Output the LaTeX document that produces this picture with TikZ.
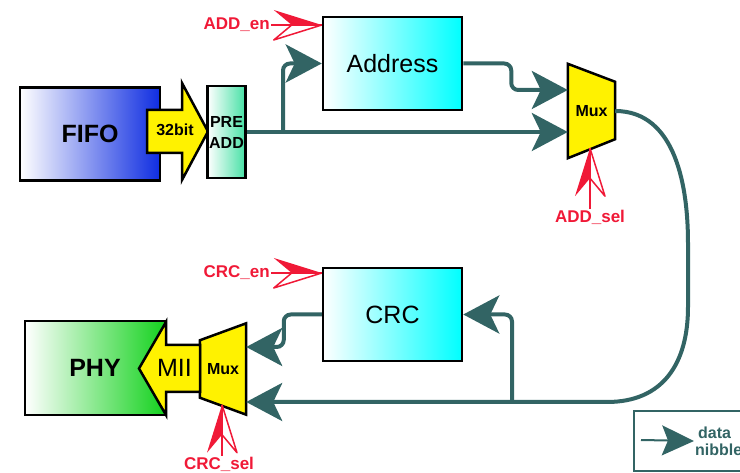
\documentclass[tikz,border=0pt]{standalone}
\usepackage{fontspec}
\setmainfont{Liberation Sans}
\usetikzlibrary{arrows.meta, calc, backgrounds, positioning}

\definecolor{datateal}{RGB}{50,100,100}
\definecolor{ctrlred}{RGB}{240,25,55}
\definecolor{fifoblue}{RGB}{15,45,225}
\definecolor{premint}{RGB}{70,225,165}
\definecolor{phygreen}{RGB}{20,210,30}

\tikzset{
  blockbox/.style={draw=black, line width=2.5pt, left color=white, inner sep=0pt,
    font=\fontsize{25}{30}\selectfont},
  muxframe/.style={minimum width=47pt, minimum height=94pt, inner sep=0pt,
    font=\fontsize{16}{19}\selectfont\bfseries},
  muxshape/.style={draw=black, line width=2.5pt, fill=yellow, line join=miter},
  busarrow/.style={draw=black, line width=2.5pt, fill=yellow, line join=miter},
  datapath/.style={draw=datateal, line width=4pt, rounded corners=7pt,
    -{Stealth[length=36pt, width=38pt, inset=9pt]}},
  ctrl/.style={draw=ctrlred, line width=2pt},
  ctrllabel/.style={text=ctrlred, inner sep=1pt, font=\fontsize{17}{20}\selectfont\bfseries},
  ctrlhead/.pic={
    \fill[ctrlred] (0,0) -- (-48,-15) -- (-30,0) -- cycle;
    \draw[ctrlred, line width=1.5pt, line join=round] (0,0) -- (-48,15) -- (-30,0);
  },
}

\begin{document}
\begin{tikzpicture}[x=1pt, y=-1pt]
    \useasboundingbox (0,0) rectangle (740,473);

    % FIFO side
    \node[blockbox, right color=fifoblue, minimum width=140pt, minimum height=93pt,
      font=\fontsize{25}{30}\selectfont\bfseries] (fifo) at (90,134) {FIFO};
    \draw[busarrow] (147,110) -- (182,110) -- (182,83) -- (208,131.5) -- (182,180)
      -- (182,153) -- (147,153) -- cycle;
    \node[font=\fontsize{16}{19}\selectfont\bfseries] (bus32) at (175,130) {32bit};
    \node[blockbox, right color=premint, minimum width=38pt, minimum height=92pt,
      align=center, font=\fontsize{16}{21}\selectfont\bfseries] (pre) at (226.5,132) {PRE\\ADD};

    % Address and CRC
    \node[blockbox, right color=cyan, minimum width=139pt, minimum height=93pt] (addr) at (392.5,63.5) {Address};
    \node[blockbox, right color=cyan, minimum width=139pt, minimum height=93pt] (crc) at (392.5,314.5) {CRC};

    % Muxes
    \node[muxframe] (mux1) at (591.5,111) {Mux};
    \node[muxframe, minimum width=46pt, minimum height=91pt] (mux2) at (223,369) {Mux};
    \begin{scope}[on background layer]
      \draw[muxshape] (mux1.north west) -- ($(mux1.north east)+(0,18)$)
        -- ($(mux1.south east)+(0,-19)$) -- (mux1.south west) -- cycle;
      \draw[muxshape] ($(mux2.north west)+(0,17)$) -- (mux2.north east)
        -- (mux2.south east) -- ($(mux2.south west)+(0,-17)$) -- cycle;
    \end{scope}

    % PHY side
    \node[blockbox, right color=phygreen, minimum width=140pt, minimum height=94pt,
      font=\fontsize{25}{30}\selectfont\bfseries] (phy) at (95,368) {PHY};
    \draw[busarrow] (200,345) -- (166,345) -- (166,322) -- (139,368.5) -- (166,415)
      -- (166,392) -- (200,392) -- cycle;
    \node[font=\fontsize{25}{30}\selectfont] (mii) at (174.5,368) {MII};

    % data nibbles
    \coordinate (split1) at (283,132);
    \coordinate (split2) at (512,402);
    \draw[datapath] (pre.east) -- ($(mux1.west)+(0,21)$);
    \draw[datapath] (split1) |- (addr.west);
    \draw[datapath] (addr.east) -- ++(48,0) |- ($(mux1.west)+(0,-21)$);
    \draw[datapath] (mux1.east) to[out=0, in=90] (688,250) -- (688,300)
      to[out=-90, in=0, looseness=1.2] (600,402) -- ($(mux2.east)+(0,33)$);
    \draw[datapath] (split2) |- (crc.east);
    \draw[datapath] (crc.west) -- ++(-38,0) |- ($(mux2.east)+(0,-22)$);

    % control signals
    \node[ctrllabel, anchor=east] (adden) at (271,25) {ADD\_en};
    \draw[ctrl] (adden.east) -- (adden.east -| addr.west) coordinate (addentip);
    \pic at (addentip) {ctrlhead};

    \node[ctrllabel, anchor=east] (crcen) at (271,273) {CRC\_en};
    \draw[ctrl] (crcen.east) -- (crcen.east -| crc.west) coordinate (crcentip);
    \pic at (crcentip) {ctrlhead};

    \node[ctrllabel] (addsel) at (590,217) {ADD\_sel};
    \coordinate (addseltip) at ($(mux1.south)+(-1.5,-10)$);
    \draw[ctrl] (addseltip |- addsel.north) -- (addseltip);
    \pic[rotate=90] at (addseltip) {ctrlhead};

    \node[ctrllabel] (crcsel) at (219,464) {CRC\_sel};
    \coordinate (crcseltip) at ($(mux2.south)+(-1,-10)$);
    \draw[ctrl] (crcseltip |- crcsel.north) -- (crcseltip);
    \pic[rotate=90] at (crcseltip) {ctrlhead};

    % legend
    \node[draw=datateal, line width=2pt, minimum width=125pt, minimum height=60pt,
      anchor=north west] (legend) at (633,410) {};
    \node[text=datateal, align=left, anchor=west, inner sep=1pt,
      font=\fontsize{16}{17}\selectfont\bfseries] (legtext) at (694,441) {\hspace*{3pt}data\\nibbles};
    \coordinate (legstart) at (641,440);
    \draw[datateal, line width=2pt, -{Stealth[length=32pt, width=30pt, inset=6pt]}]
      (legstart) -- (legtext.west);
\end{tikzpicture}
\end{document}
